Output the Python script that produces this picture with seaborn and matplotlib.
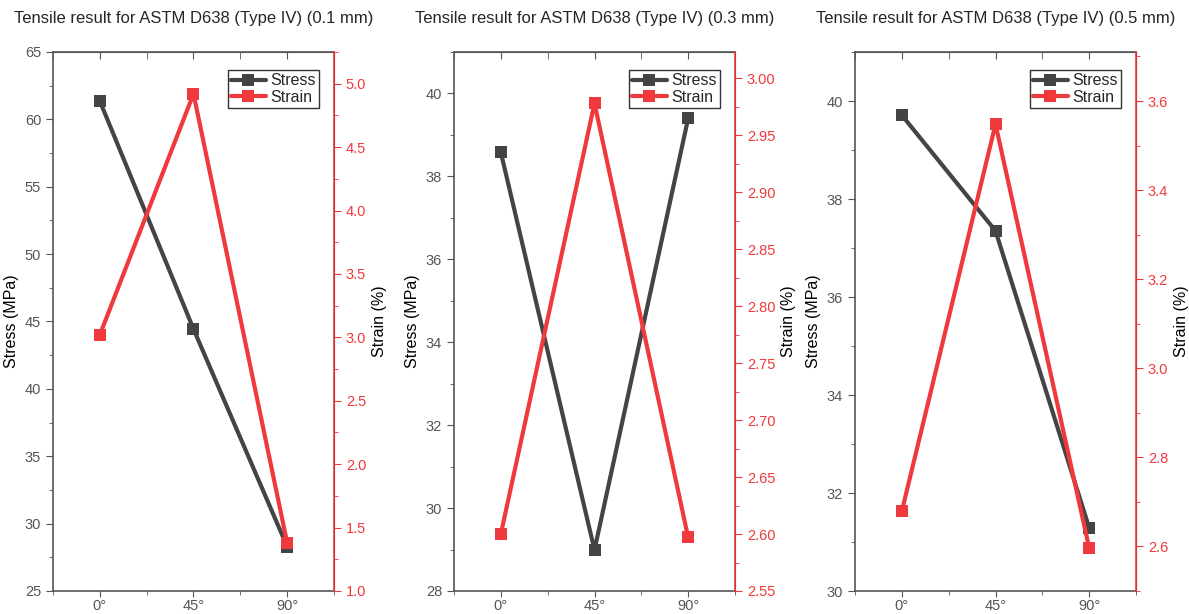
import numpy as np
import pandas as pd
import matplotlib
matplotlib.use("Agg")
import matplotlib.pyplot as plt
from matplotlib.ticker import MultipleLocator
import seaborn as sns

sns.set_style("ticks")
plt.rcParams['font.family'] = ['Liberation Sans', 'DejaVu Sans']

# data
angles = ["0°", "45°", "90°"]
thickness = ["0.1 mm", "0.3 mm", "0.5 mm"]
stress_01 = [61.36, 44.44, 28.3]
strain_01 = [3.02, 4.92, 1.38]
stress_03 = [38.58, 28.99, 39.40]
strain_03 = [2.600, 2.978, 2.597]
stress_05 = [39.71, 37.35, 31.29]
strain_05 = [2.679, 3.548, 2.597]

stress_sets = [stress_01, stress_03, stress_05]
strain_sets = [strain_01, strain_03, strain_05]
stress_lims = [(25, 65), (28, 41), (30, 41)]
stress_major = [5, 2, 2]
strain_lims = [(1.0, 5.25), (2.55, 3.023), (2.5, 3.71)]
strain_major = [0.5, 0.05, 0.2]
strain_fmt = ["{:.1f}", "{:.2f}", "{:.1f}"]

GREY = "#444444"
RED = "#f0393c"
TICK = "#555555"

fig = plt.figure(figsize=(11.89, 6.14), dpi=100)
lefts = [53, 454, 855]
bottom = 1 - 591 / 614
height = (591 - 52) / 614

for i in range(3):
    ax = fig.add_axes([lefts[i] / 1189, bottom, 281 / 1189, height])
    ax2 = ax.twinx()
    pos = np.arange(len(angles))
    df = pd.DataFrame({"pos": pos, "stress": stress_sets[i], "strain": strain_sets[i]})

    sns.lineplot(data=df, x="pos", y="stress", ax=ax, color=GREY, lw=3,
                 marker="s", markersize=9, markeredgewidth=0, label="Stress", legend=False)
    sns.lineplot(data=df, x="pos", y="strain", ax=ax2, color=RED, lw=3,
                 marker="s", markersize=9, markeredgewidth=0, label="Strain", legend=False)

    ax.set_xlim(-0.5, 2.5)
    ax.set_xticks(pos)
    ax.set_xticklabels(angles)
    ax.xaxis.set_minor_locator(MultipleLocator(0.5))
    ax.set_xlabel("")
    ax.set_ylim(*stress_lims[i])
    ax.yaxis.set_major_locator(MultipleLocator(stress_major[i]))
    ax.yaxis.set_minor_locator(MultipleLocator(stress_major[i] / 2))
    ax.set_ylabel("Stress (MPa)", fontsize=11.5, color="black")
    ax.tick_params(axis="both", which="major", labelsize=10.5, labelcolor=TICK, color=TICK, length=5)
    ax.tick_params(axis="both", which="minor", color=TICK, length=3)
    ax.tick_params(axis="x", which="major", length=4, pad=2)
    for s in ["left", "bottom", "top"]:
        ax.spines[s].set_color(TICK)
        ax.spines[s].set_linewidth(1.2)
    ax.set_title(f"Tensile result for ASTM D638 (Type IV) ({thickness[i]})", fontsize=12, pad=21)

    ax2.set_ylim(*strain_lims[i])
    ax2.yaxis.set_major_locator(MultipleLocator(strain_major[i]))
    ax2.yaxis.set_minor_locator(MultipleLocator(strain_major[i] / 2))
    fmt = strain_fmt[i]
    ax2.set_yticks(ax2.get_yticks())
    ax2.set_ylim(*strain_lims[i])
    ax2.set_yticklabels([fmt.format(t) for t in ax2.get_yticks()])
    ax2.set_ylabel("Strain (%)", fontsize=11.5, color="black")
    ax2.tick_params(axis="y", which="major", labelsize=10.5, labelcolor=RED, color=RED, length=5)
    ax2.tick_params(axis="y", which="minor", color=RED, length=3)
    ax2.spines["right"].set_color(RED)
    ax2.spines["right"].set_linewidth(1.2)
    for s in ["left", "bottom", "top"]:
        ax2.spines[s].set_visible(False)

    handles = ax.get_lines()[:1] + ax2.get_lines()[:1]
    leg = ax2.legend(handles, ["Stress", "Strain"], loc="upper right",
                     bbox_to_anchor=(0.965, 0.975), fontsize=11.5, frameon=True,
                     fancybox=False, handlelength=2.2, borderpad=0.2,
                     labelspacing=0.1, handletextpad=0.3, borderaxespad=0.3)
    leg.get_frame().set_edgecolor("black")
    leg.get_frame().set_linewidth(1.0)

# top ticks inward
for ax in fig.axes[::2]:
    sec = ax.secondary_xaxis("top")
    sec.set_xticks(ax.get_xticks())
    sec.xaxis.set_minor_locator(MultipleLocator(0.5))
    sec.tick_params(which="both", direction="in", labeltop=False, color=TICK)
    sec.tick_params(which="major", length=5)
    sec.tick_params(which="minor", length=5)
    sec.spines["top"].set_color(TICK)

fig.savefig("out.png", dpi=100)
